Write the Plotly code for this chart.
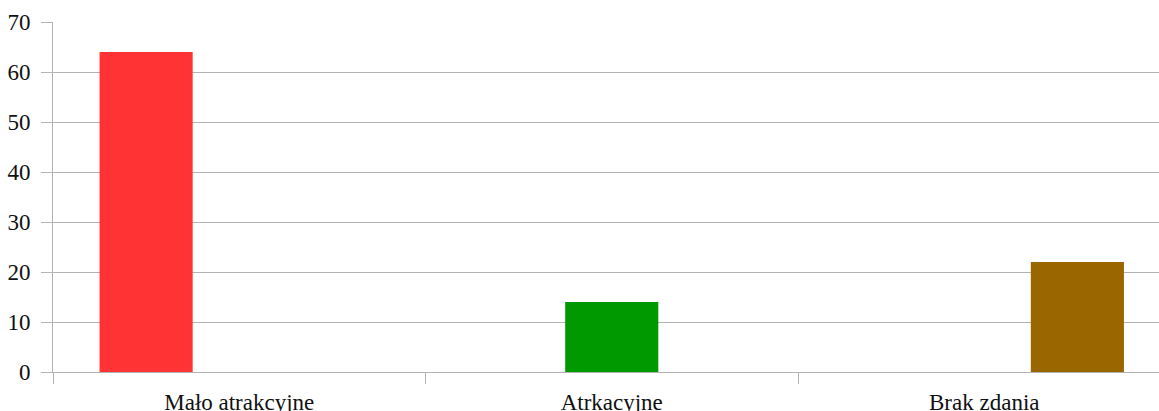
import plotly.graph_objects as go

categories = ["Mało atrakcyjne", "Atrkacyjne", "Brak zdania"]
series_names = ["Mało atrakcyjne", "Atrkacyjne", "Brak zdania"]
series_values = [
    [64, None, None],
    [None, 14, None],
    [None, None, 22],
]
series_colors = ["#ff3333", "#009900", "#996600"]
y_ticks = [0, 10, 20, 30, 40, 50, 60, 70]

GRAY = "#b3b3b3"
FONT = "Liberation Serif"
FS = 23

fig = go.Figure()
for name, vals, col in zip(series_names, series_values, series_colors):
    fig.add_trace(go.Bar(x=categories, y=vals, name=name, marker=dict(color=col, line=dict(width=0)),
                         showlegend=False))

W, H = 1159, 411
ml, mt, mb = 53, 22, 39
plot_w = W - ml
cat_px = 372.5
x_end = -0.5 + plot_w / cat_px

fig.update_layout(
    width=W, height=H,
    margin=dict(l=ml, r=0, t=mt, b=mb, pad=0),
    barmode="group", bargap=0.25, bargroupgap=0,
    plot_bgcolor="white", paper_bgcolor="white",
    font=dict(family=FONT, size=FS, color="#111111"),
)
fig.update_xaxes(
    type="category", range=[-0.5, x_end], automargin=False,
    tickson="boundaries", ticks="outside", ticklen=11, tickcolor=GRAY, tickwidth=1,
    showline=True, linecolor=GRAY, linewidth=1, showgrid=False,
    tickfont=dict(family=FONT, size=FS, color="#111111"), ticklabelstandoff=9,
)
fig.update_yaxes(
    range=[0, 70], tickmode="array", tickvals=y_ticks, ticktext=[str(v) for v in y_ticks],
    automargin=False,
    ticks="outside", ticklen=11, tickcolor=GRAY, tickwidth=1,
    showline=True, linecolor=GRAY, linewidth=1,
    showgrid=True, gridcolor=GRAY, gridwidth=1, zeroline=False,
    tickfont=dict(family=FONT, size=FS, color="#111111"), ticklabelstandoff=6,
)

fig.write_html("out.html", config={"displayModeBar": False},
               post_script="document.body.style.margin='0';document.body.style.overflow='hidden';")
